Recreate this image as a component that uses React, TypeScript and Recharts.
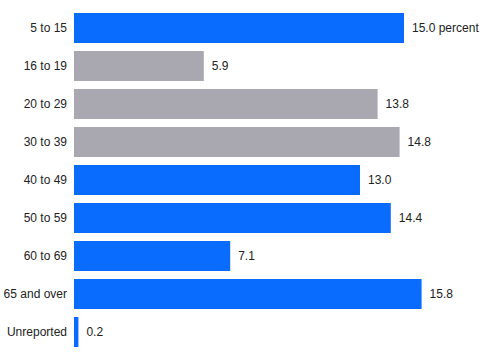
import { BarChart, Bar, XAxis, YAxis, Cell, LabelList } from "recharts";

const categories = [
  "5 to 15",
  "16 to 19",
  "20 to 29",
  "30 to 39",
  "40 to 49",
  "50 to 59",
  "60 to 69",
  "65 and over",
  "Unreported",
];
const shares = [15.0, 5.9, 13.8, 14.8, 13.0, 14.4, 7.1, 15.8, 0.2];
const highlighted = [false, true, true, true, false, false, false, false, false];

const BLUE = "#0a6cff";
const GRAY = "#a9a8b1";
const FONT = "'Liberation Sans', Arial, sans-serif";

const data = categories.map((name, i) => ({
  name,
  value: shares[i],
  label: i === 0 ? `${shares[i].toFixed(1)} percent` : shares[i].toFixed(1),
}));

// plain svg text so nothing gets wrapped
const CategoryTick = (props: any) => {
  const { x, y, payload } = props;
  return (
    <text x={x} y={y} dy={4} textAnchor="end" fill="#222" fontSize={12} fontFamily={FONT}>
      {payload.value}
    </text>
  );
};

const ValueLabel = (props: any) => {
  const { x, y, width, height, value } = props;
  return (
    <text
      x={Number(x) + Number(width) + 8}
      y={Number(y) + Number(height) / 2}
      dy={4}
      fill="#222"
      fontSize={12}
      fontFamily={FONT}
    >
      {value}
    </text>
  );
};

export default function App() {
  return (
    <div style={{ position: "absolute", left: 0, top: 0, background: "#fff" }}>
      <BarChart
        width={489}
        height={361}
        data={data}
        layout="vertical"
        margin={{ top: 9, right: 19, bottom: 10, left: 0 }}
      >
        <XAxis type="number" domain={[0, 18]} hide />
        <YAxis
          type="category"
          dataKey="name"
          width={74}
          axisLine={false}
          tickLine={false}
          tickSize={0}
          tickMargin={7}
          interval={0}
          tick={CategoryTick}
        />
        <Bar dataKey="value" barSize={30} isAnimationActive={false}>
          {data.map((d, i) => (
            <Cell key={d.name} fill={highlighted[i] ? GRAY : BLUE} />
          ))}
          <LabelList dataKey="label" content={ValueLabel} />
        </Bar>
      </BarChart>
    </div>
  );
}
